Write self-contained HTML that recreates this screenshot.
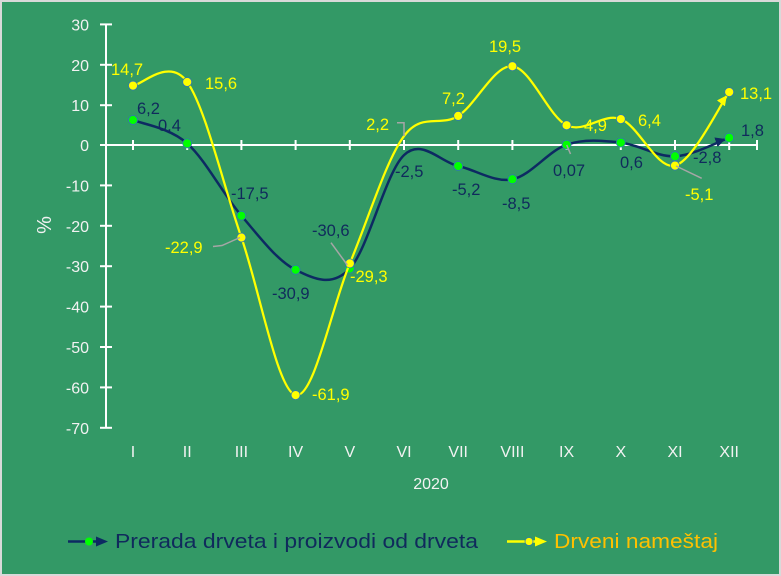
<!DOCTYPE html>
<html>
<head>
<meta charset="utf-8">
<style>
  html,body{margin:0;padding:0;background:#d9d9d9;}
  svg{display:block;}
  text{font-family:"Liberation Sans",Arial,sans-serif;}
</style>
</head>
<body>
<svg width="781" height="576" viewBox="0 0 781 576" xmlns="http://www.w3.org/2000/svg">
  <defs>
    <marker id="arrN" markerUnits="userSpaceOnUse" markerWidth="14" markerHeight="10" refX="14" refY="5" orient="auto" viewBox="0 0 14 10">
      <path d="M0,0 L10,5 L0,10 z" fill="#0d2a62"/>
    </marker>
    <marker id="arrY" markerUnits="userSpaceOnUse" markerWidth="14" markerHeight="10" refX="14" refY="5" orient="auto" viewBox="0 0 14 10">
      <path d="M0,0 L10,5 L0,10 z" fill="#ffff00"/>
    </marker>
  </defs>
  <rect x="0" y="0" width="781" height="576" fill="#d9d9d9"/>
  <rect x="2" y="2" width="777" height="572" fill="#339966"/>

  <!-- Y axis -->
  <g stroke="#ffffff" stroke-width="2">
    <line x1="106" y1="24" x2="106" y2="428"/>
    <line x1="100" y1="24.4" x2="112" y2="24.4"/>
    <line x1="100" y1="64.8" x2="112" y2="64.8"/>
    <line x1="100" y1="105.2" x2="112" y2="105.2"/>
    <line x1="100" y1="145" x2="112" y2="145"/>
    <line x1="100" y1="185.4" x2="112" y2="185.4"/>
    <line x1="100" y1="225.8" x2="112" y2="225.8"/>
    <line x1="100" y1="266.2" x2="112" y2="266.2"/>
    <line x1="100" y1="306.6" x2="112" y2="306.6"/>
    <line x1="100" y1="347" x2="112" y2="347"/>
    <line x1="100" y1="387.4" x2="112" y2="387.4"/>
    <line x1="100" y1="427.8" x2="112" y2="427.8"/>
    <!-- X axis -->
    <line x1="106" y1="145" x2="757" y2="145"/>
    <line x1="133" y1="140" x2="133" y2="150"/>
    <line x1="187.2" y1="140" x2="187.2" y2="150"/>
    <line x1="241.4" y1="140" x2="241.4" y2="150"/>
    <line x1="295.6" y1="140" x2="295.6" y2="150"/>
    <line x1="349.8" y1="140" x2="349.8" y2="150"/>
    <line x1="404" y1="140" x2="404" y2="150"/>
    <line x1="458.2" y1="140" x2="458.2" y2="150"/>
    <line x1="512.4" y1="140" x2="512.4" y2="150"/>
    <line x1="566.6" y1="140" x2="566.6" y2="150"/>
    <line x1="620.8" y1="140" x2="620.8" y2="150"/>
    <line x1="675" y1="140" x2="675" y2="150"/>
    <line x1="729.2" y1="140" x2="729.2" y2="150"/>
    <line x1="757" y1="140" x2="757" y2="150"/>
  </g>

  <!-- Y tick labels -->
  <g fill="#f2f2f2" font-size="16" text-anchor="end">
    <text x="89" y="30.4">30</text>
    <text x="89" y="70.8">20</text>
    <text x="89" y="111.2">10</text>
    <text x="89" y="151">0</text>
    <text x="89" y="191.4">-10</text>
    <text x="89" y="231.8">-20</text>
    <text x="89" y="272.2">-30</text>
    <text x="89" y="312.6">-40</text>
    <text x="89" y="353">-50</text>
    <text x="89" y="393.4">-60</text>
    <text x="89" y="433.8">-70</text>
  </g>
  <text x="0" y="0" fill="#f2f2f2" font-size="20" text-anchor="middle" transform="translate(51,225) rotate(-90)">%</text>

  <!-- X labels -->
  <g fill="#f2f2f2" font-size="16" text-anchor="middle">
    <text x="133" y="457">I</text>
    <text x="187.2" y="457">II</text>
    <text x="241.4" y="457">III</text>
    <text x="295.6" y="457">IV</text>
    <text x="349.8" y="457">V</text>
    <text x="404" y="457">VI</text>
    <text x="458.2" y="457">VII</text>
    <text x="512.4" y="457">VIII</text>
    <text x="566.6" y="457">IX</text>
    <text x="620.8" y="457">X</text>
    <text x="675" y="457">XI</text>
    <text x="729.2" y="457">XII</text>
    <text x="431" y="489">2020</text>
  </g>

  <!-- Navy series -->
  <path fill="none" stroke="#0d2a62" stroke-width="2.5" marker-end="url(#arrN)"
    d="M133,120 C142.03,123.9 169.13,127.45 187.2,143.4
       C205.27,159.35 223.33,194.63 241.4,215.7
       C259.47,236.77 277.53,260.98 295.6,269.8
       C313.67,278.62 331.73,287.72 349.8,268.6
       C367.87,249.48 385.93,172.2 404,155.1
       C422.07,138 440.13,161.97 458.2,166
       C476.27,170.03 494.33,182.85 512.4,179.3
       C530.47,175.75 548.53,150.82 566.6,144.7
       C584.67,138.58 602.73,140.67 620.8,142.6
       C638.87,144.53 656.93,157.12 675,156.3
       C693.07,155.48 720.17,140.8 729.2,137.7"/>
  <g fill="#00ff00" stroke="#2e75b6" stroke-width="0.75">
    <circle cx="133" cy="120" r="4.5"/>
    <circle cx="187.2" cy="143.4" r="4.5"/>
    <circle cx="241.4" cy="215.7" r="4.5"/>
    <circle cx="295.6" cy="269.8" r="4.5"/>
    <circle cx="349.8" cy="268.6" r="4.5"/>
    <circle cx="458.2" cy="166" r="4.5"/>
    <circle cx="512.4" cy="179.3" r="4.5"/>
    <circle cx="566.6" cy="144.7" r="4.5"/>
    <circle cx="620.8" cy="142.6" r="4.5"/>
    <circle cx="675" cy="156.3" r="4.5"/>
    <circle cx="729.2" cy="137.7" r="4.5"/>
  </g>

  <!-- Yellow series -->
  <path fill="none" stroke="#ffff00" stroke-width="2.25" marker-end="url(#arrY)"
    d="M133,85.6 C142.03,85 169.13,56.7 187.2,82
       C205.27,107.32 223.33,185.32 241.4,237.5
       C259.47,289.68 277.53,390.78 295.6,395.1
       C313.67,399.42 331.73,306.57 349.8,263.4
       C367.87,220.23 385.93,160.68 404,136.1
       C422.07,111.52 440.13,127.55 458.2,115.9
       C476.27,104.25 494.33,64.65 512.4,66.2
       C530.47,67.75 548.53,116.38 566.6,125.2
       C584.67,134.02 602.73,112.37 620.8,119.1
       C638.87,125.83 656.93,170.1 675,165.6
       C693.07,161.1 720.17,104.35 729.2,92.1"/>
  <g fill="#ffff00" stroke="#2e75b6" stroke-width="0.75">
    <circle cx="133" cy="85.6" r="4.5"/>
    <circle cx="187.2" cy="82" r="4.5"/>
    <circle cx="241.4" cy="237.5" r="4.5"/>
    <circle cx="295.6" cy="395.1" r="4.5"/>
    <circle cx="349.8" cy="263.4" r="4.5"/>
    <circle cx="458.2" cy="115.9" r="4.5"/>
    <circle cx="512.4" cy="66.2" r="4.5"/>
    <circle cx="566.6" cy="125.2" r="4.5"/>
    <circle cx="620.8" cy="119.1" r="4.5"/>
    <circle cx="675" cy="165.6" r="4.5"/>
    <circle cx="729.2" cy="92.1" r="4.5"/>
  </g>

  <!-- Leader lines -->
  <g fill="none" stroke="#a6a6a6" stroke-width="1.5">
    <polyline points="213,246.5 222,245.5 240,237.5"/>
    <line x1="331" y1="242.7" x2="347.3" y2="265"/>
    <polyline points="397,122.7 404,122.7 404,136"/>
    <line x1="566.7" y1="145" x2="570.5" y2="154"/>
    <line x1="676" y1="166" x2="701.7" y2="178.3"/>
  </g>

  <!-- Yellow data labels -->
  <g fill="#ffff00" font-size="16.5">
    <text x="111" y="75">14,7</text>
    <text x="205" y="89">15,6</text>
    <text x="165" y="253">-22,9</text>
    <text x="312" y="400">-61,9</text>
    <text x="350" y="282">-29,3</text>
    <text x="389" y="130" text-anchor="end">2,2</text>
    <text x="442" y="104">7,2</text>
    <text x="489" y="52">19,5</text>
    <text x="584" y="131">4,9</text>
    <text x="638" y="126">6,4</text>
    <text x="685" y="200">-5,1</text>
    <text x="740" y="99">13,1</text>
  </g>

  <!-- Navy data labels -->
  <g fill="#102a5c" font-size="16.5">
    <text x="137" y="114">6,2</text>
    <text x="158" y="131">0,4</text>
    <text x="231" y="199">-17,5</text>
    <text x="272" y="299">-30,9</text>
    <text x="312" y="236">-30,6</text>
    <text x="395" y="177">-2,5</text>
    <text x="452" y="195">-5,2</text>
    <text x="502" y="209">-8,5</text>
    <text x="553" y="176">0,07</text>
    <text x="620" y="168">0,6</text>
    <text x="693" y="163">-2,8</text>
    <text x="741" y="136">1,8</text>
  </g>

  <!-- Legend -->
  <line x1="68" y1="541.5" x2="100" y2="541.5" stroke="#0d2a62" stroke-width="2.5"/>
  <circle cx="89" cy="541.5" r="4" fill="#00ff00"/>
  <polygon points="96,536.5 108,541.5 96,546.5" fill="#0d2a62"/>
  <text x="115" y="548" fill="#102a5c" font-size="20" textLength="363" lengthAdjust="spacingAndGlyphs">Prerada drveta i proizvodi od drveta</text>

  <line x1="507" y1="541.5" x2="540" y2="541.5" stroke="#ffff00" stroke-width="2.5"/>
  <circle cx="529" cy="541.5" r="4" fill="#ffff00" stroke="#2e75b6" stroke-width="0.75"/>
  <polygon points="535,536.5 547,541.5 535,546.5" fill="#ffff00"/>
  <text x="554" y="548" fill="#ffc000" font-size="20" textLength="164" lengthAdjust="spacingAndGlyphs">Drveni nameštaj</text>
</svg>
</body>
</html>
